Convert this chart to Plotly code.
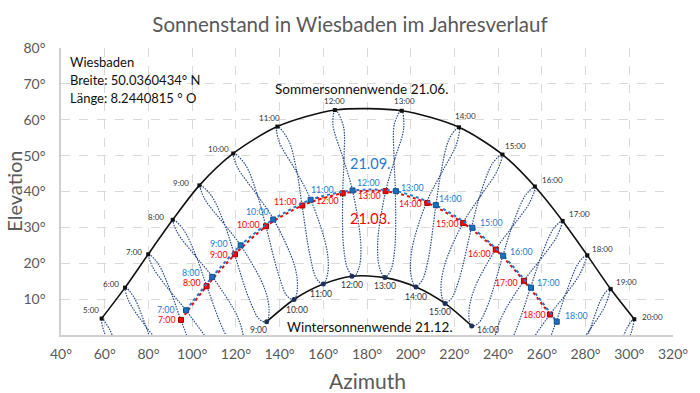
import plotly.graph_objects as go

FONT = "Lato, Carlito, sans-serif"

# ---------------- data ----------------
# Summer solstice 21.06.
summer_hours = ["5:00", "6:00", "7:00", "8:00", "9:00", "10:00", "11:00", "12:00",
                "13:00", "14:00", "15:00", "16:00", "17:00", "18:00", "19:00", "20:00"]
summer_az = [58.6, 69.3, 79.9, 91.1, 103.3, 118.8, 139.0, 165.3,
             195.9, 222.1, 242.0, 256.8, 269.5, 280.8, 291.5, 302.3]
summer_el = [4.6, 13.2, 22.5, 32.1, 41.7, 50.6, 58.1, 62.7,
             62.5, 57.9, 50.3, 41.4, 31.8, 22.2, 12.8, 4.4]

# Winter solstice 21.12.
winter_hours = ["9:00", "10:00", "11:00", "12:00", "13:00", "14:00", "15:00", "16:00"]
winter_az = [134.1, 146.6, 160.0, 173.1, 188.2, 202.4, 215.7, 227.9]
winter_el = [3.7, 9.9, 14.2, 16.4, 16.0, 13.4, 8.8, 2.5]

# Equinoxes
eq_hours = ["7:00", "8:00", "9:00", "10:00", "11:00", "12:00",
            "13:00", "14:00", "15:00", "16:00", "17:00", "18:00"]
mar_az = [94.9, 106.6, 119.6, 133.8, 150.4, 168.9, 188.5, 207.6, 224.0, 238.9, 251.8, 263.7]
mar_el = [4.2, 13.6, 22.5, 30.3, 36.1, 39.5, 40.1, 36.8, 31.2, 23.8, 15.1, 5.7]
sep_az = [97.2, 109.2, 122.2, 137.1, 154.2, 173.4, 193.2, 211.5, 228.2, 242.3, 255.0, 266.8]
sep_el = [6.9, 16.2, 25.0, 32.2, 37.7, 40.3, 40.1, 36.2, 29.9, 22.1, 13.2, 3.7]

# Analemmas (sun position at a fixed clock time through the year)
# order: 21.03., 16.04., 14.05., 21.06., 26.07., 28.08., 21.09., 03.11., 28.11., 21.12., 15.01., 11.02., 21.03.
ana05_az = [71.5, 66.8, 62.2, 58.5, 59.8, 66.7, 74.1]
ana05_el = [-15.0, -6.1, 1.6, 4.7, 0.8, -6.4, -12.4]
ana06_az = [83.4, 78.4, 73.4, 69.3, 70.9, 78.3, 85.9]
ana06_el = [-5.5, 3.1, 10.5, 13.4, 9.6, 2.8, -2.9]
ana07_az = [94.9, 89.8, 84.4, 80.0, 81.9, 89.7, 97.4, 109.3, 112.3, 111.8, 108.4, 102.9, 94.9]
ana07_el = [4.1, 12.7, 19.9, 22.6, 19.0, 12.4, 6.7, -3.8, -9.3, -12.5, -12.4, -7.8, 4.1]
ana08_az = [106.7, 101.6, 95.9, 91.2, 93.2, 101.5, 109.4, 120.8, 123.4, 122.7, 119.3, 114.3, 106.7]
ana08_el = [13.6, 22.3, 29.5, 32.2, 28.6, 22.0, 16.1, 5.0, -0.8, -3.9, -3.6, 1.4, 13.6]
ana09_az = [119.4, 114.5, 108.7, 103.6, 105.7, 114.4, 122.5, 133.3, 135.2, 134.1, 130.9, 126.3, 119.4]
ana09_el = [22.4, 31.4, 38.9, 41.8, 38.0, 31.1, 24.7, 12.7, 6.7, 3.7, 4.3, 9.7, 22.4]
ana10_az = [133.8, 129.6, 124.3, 118.8, 120.6, 129.5, 137.4, 147.0, 148.1, 146.6, 143.4, 139.5, 133.8]
ana10_el = [30.2, 39.5, 47.5, 50.8, 46.9, 39.2, 32.1, 19.0, 12.7, 9.8, 10.9, 16.9, 30.2]
ana11_az = [150.3, 147.8, 144.0, 138.8, 139.6, 147.6, 154.4, 161.8, 161.9, 159.9, 156.9, 153.9, 150.3]
ana11_el = [36.1, 45.9, 54.4, 58.3, 54.2, 45.6, 37.5, 23.2, 16.8, 14.2, 15.7, 22.2, 36.1]
ana12_az = [168.9, 169.5, 169.2, 165.5, 164.4, 169.1, 173.4, 177.2, 176.3, 174.0, 171.2, 169.2, 168.9]
ana12_el = [39.5, 49.4, 58.2, 62.8, 58.8, 49.2, 40.2, 24.9, 18.7, 16.3, 18.4, 25.2, 39.5]
ana13_az = [188.4, 192.8, 196.8, 195.8, 192.6, 192.4, 193.0, 192.7, 190.9, 188.3, 185.8, 184.9, 188.4]
ana13_el = [39.7, 49.2, 57.7, 62.7, 59.0, 49.0, 39.7, 24.1, 18.1, 16.1, 18.6, 25.7, 39.7]
ana14_az = [207.1, 214.2, 220.9, 222.2, 217.8, 213.8, 211.5, 207.9, 205.1, 202.3, 200.2, 200.5, 207.1]
ana14_el = [36.8, 45.3, 53.1, 58.0, 54.9, 45.2, 36.0, 20.7, 15.1, 13.6, 16.4, 23.6, 36.8]
ana15_az = [223.9, 232.0, 239.5, 241.9, 237.4, 231.6, 227.8, 222.0, 218.4, 215.5, 213.9, 215.3, 223.9]
ana15_el = [31.2, 38.8, 45.7, 50.4, 47.8, 38.7, 29.9, 15.2, 10.0, 9.0, 12.1, 19.0, 31.2]
ana16_az = [238.6, 246.9, 254.3, 257.0, 252.7, 246.5, 242.1, 235.0, 230.8, 227.8, 226.6, 228.9, 238.6]
ana16_el = [23.6, 30.5, 36.8, 41.4, 39.1, 30.5, 22.0, 7.9, 3.2, 2.5, 5.8, 12.5, 23.6]
ana17_az = [251.5, 259.7, 266.8, 269.3, 265.4, 259.3, 254.7, 246.8, 242.2, 239.1, 238.3, 241.3, 251.5]
ana17_el = [14.9, 21.3, 27.4, 31.8, 29.7, 21.3, 13.0, -0.5, -4.8, -5.2, -1.9, 4.6, 14.9]
ana18_az = [263.4, 271.4, 278.1, 280.4, 276.8, 271.1, 266.4, 258.0, 253.2, 250.0, 249.4, 252.9, 263.4]
ana18_el = [5.5, 11.7, 17.8, 22.2, 20.1, 11.8, 3.5, -9.7, -13.8, -13.9, -10.5, -4.3, 5.5]
ana19_az = [274.9, 282.8, 289.1, 291.1, 287.8, 282.4, 278.0]
ana19_el = [-4.1, 2.2, 8.4, 13.0, 10.7, 2.2, -6.1]
ana20_az = [286.8, 294.4, 300.3, 302.0, 298.9, 294.1, 289.9]
ana20_el = [-13.5, -6.9, -0.4, 4.4, 1.9, -7.0, -15.5]

analemmas = [(ana05_az, ana05_el), (ana06_az, ana06_el), (ana07_az, ana07_el), (ana08_az, ana08_el),
             (ana09_az, ana09_el), (ana10_az, ana10_el), (ana11_az, ana11_el), (ana12_az, ana12_el),
             (ana13_az, ana13_el), (ana14_az, ana14_el), (ana15_az, ana15_el), (ana16_az, ana16_el),
             (ana17_az, ana17_el), (ana18_az, ana18_el), (ana19_az, ana19_el), (ana20_az, ana20_el)]

x_ticks = [40, 60, 80, 100, 120, 140, 160, 180, 200, 220, 240, 260, 280, 300, 320]
y_ticks = [10, 20, 30, 40, 50, 60, 70, 80]

info_lines = ["Wiesbaden", "Breite: 50.0360434° N", "Länge: 8.2440815 ° O"]

# ---------------- label styles (anchor, xshift, yshift) ----------------
summer_lbl = [("right", -1, 9), ("right", -4, 4), ("right", -4, 2), ("right", -7, 3),
              ("right", -8, 2), ("right", -2, 4), ("center", -8, 9), ("center", 0, 9),
              ("center", 3, 10), ("center", 6, 11), ("left", 0, 9), ("left", 5, 6),
              ("left", 4, 7), ("left", 3, 6), ("left", 3, 7), ("left", 6, 2)]
winter_lbl = [("center", -8, -8), ("center", 3, -11), ("center", -2, -10), ("center", 0, -9),
              ("center", 0, -8), ("center", 0, -10), ("center", -5, -9), ("left", 3, -4)]
mar_lbl = [("right", -3, 0), ("right", -4, 4), ("right", -5, 0), ("right", -4, 2),
           ("right", -3, 4), ("right", -2, -7), ("right", -3, -4), ("right", -3, -1),
           ("right", -2, 0), ("right", -3, -4), ("right", -4, -2), ("right", -2, 0)]
sep_lbl = [("right", -9, 1), ("right", -10, 4), ("right", -11, 2), ("right", -2, 8),
           ("left", -2, 10), ("left", 2, 8), ("left", 3, 4), ("left", 1, 7),
           ("left", 6, 5), ("left", 5, 4), ("left", 4, 5), ("left", 6, 6)]

RED = "#FF0000"
BLUE = "#1F7BD0"
NAVY = "#2B4A8C"

fig = go.Figure()

for az, el in analemmas:
    fig.add_trace(go.Scatter(x=az, y=el, mode="lines",
                             line=dict(color=NAVY, width=1.2, dash="1.5px,1.2px", shape="spline", smoothing=1.0),
                             hoverinfo="skip"))

fig.add_trace(go.Scatter(x=summer_az, y=summer_el, mode="lines+markers",
                         line=dict(color="#111111", width=1.6, shape="spline", smoothing=0.8),
                         marker=dict(symbol="square", size=4, color="#111111")))
fig.add_trace(go.Scatter(x=winter_az, y=winter_el, mode="lines+markers",
                         line=dict(color="#111111", width=1.6, shape="spline", smoothing=0.8),
                         marker=dict(symbol="circle", size=5, color="#1F2F5A")))
fig.add_trace(go.Scatter(x=mar_az, y=mar_el, mode="lines+markers",
                         line=dict(color=RED, width=2, dash="dot", shape="spline", smoothing=0.8),
                         marker=dict(symbol="square", size=5, color=RED, line=dict(color="#A00000", width=1))))
fig.add_trace(go.Scatter(x=sep_az, y=sep_el, mode="lines+markers",
                         line=dict(color=BLUE, width=2, dash="dot", shape="spline", smoothing=0.8),
                         marker=dict(symbol="square", size=5, color="#1A6FC0", line=dict(color="#10508F", width=1))))

ann = []


def add_labels(xs, ys, texts, styles, color, size):
    for x, y, t, (anc, dx, dy) in zip(xs, ys, texts, styles):
        ann.append(dict(x=x, y=y, xref="x", yref="y", text=t, showarrow=False,
                        xanchor=anc, yanchor="middle", xshift=dx, yshift=dy,
                        font=dict(family=FONT, size=size, color=color)))


add_labels(summer_az, summer_el, summer_hours, summer_lbl, "#333333", 8)
add_labels(winter_az, winter_el, winter_hours, winter_lbl, "#333333", 8.5)
add_labels(mar_az, mar_el, eq_hours, mar_lbl, RED, 8.8)
add_labels(sep_az, sep_el, eq_hours, sep_lbl, BLUE, 8.8)

# info block (top left of plot)
for line_text, ypos in zip(info_lines, [0.951, 0.888, 0.826]):
    ann.append(dict(x=0.0114, y=ypos, xref="paper", yref="paper", xanchor="left", yanchor="middle",
                    showarrow=False, text=line_text,
                    font=dict(family=FONT, size=13, color="#111111")))

ann.append(dict(x=177.7, y=68.6, xref="x", yref="y", text="Sommersonnenwende 21.06.", showarrow=False,
                font=dict(family=FONT, size=13.5, color="#111111")))
ann.append(dict(x=181.4, y=2.2, xref="x", yref="y", text="Wintersonnenwende 21.12.", showarrow=False,
                font=dict(family=FONT, size=13.5, color="#111111")))
ann.append(dict(x=181.4, y=47.9, xref="x", yref="y", text="21.09.", showarrow=False,
                font=dict(family=FONT, size=14.5, color=BLUE)))
ann.append(dict(x=181.4, y=32.5, xref="x", yref="y", text="21.03.", showarrow=False,
                font=dict(family=FONT, size=14.5, color=RED)))
ann.append(dict(x=0.5, y=-0.157, xref="paper", yref="paper", text="Azimuth", showarrow=False,
                xanchor="center", yanchor="middle",
                font=dict(family=FONT, size=21, color="#595959")))
ann.append(dict(x=-0.078, y=0.5, xref="paper", yref="paper", text="Elevation", showarrow=False,
                xanchor="center", yanchor="middle", textangle=-90,
                font=dict(family=FONT, size=20, color="#595959")))

fig.update_layout(
    width=700, height=393,
    margin=dict(l=61, r=27, t=48, b=58),
    paper_bgcolor="white", plot_bgcolor="white",
    showlegend=False,
    title=dict(text="Sonnenstand in Wiesbaden im Jahresverlauf", x=0.5, xanchor="center",
               y=1 - 25 / 393, yanchor="middle", yref="container",
               font=dict(family=FONT, size=20.5, color="#595959")),
    annotations=ann,
)
fig.update_xaxes(range=[40, 320], tickvals=x_ticks, ticktext=[f"{v}°" for v in x_ticks],
                 showgrid=True, gridcolor="#D9D9D9", griddash="dash", gridwidth=1,
                 showline=True, linecolor="#D0D0D0", linewidth=1.5, zeroline=False,
                 ticks="", ticklabelstandoff=5, automargin=False,
                 tickfont=dict(family=FONT, size=14, color="#595959"))
fig.update_yaxes(range=[0, 80], tickvals=y_ticks, ticktext=[f"{v}°" for v in y_ticks],
                 showgrid=True, gridcolor="#D9D9D9", griddash="dash", gridwidth=1,
                 showline=True, linecolor="#D0D0D0", linewidth=1.5, zeroline=False,
                 ticks="", ticklabelstandoff=11, automargin=False,
                 tickfont=dict(family=FONT, size=14, color="#595959"))

# remove the default 8px page margin so the 700x393 figure fills the window exactly
fig.write_html("out.html", config={"displayModeBar": False},
               post_script="document.body.style.margin='0';")
